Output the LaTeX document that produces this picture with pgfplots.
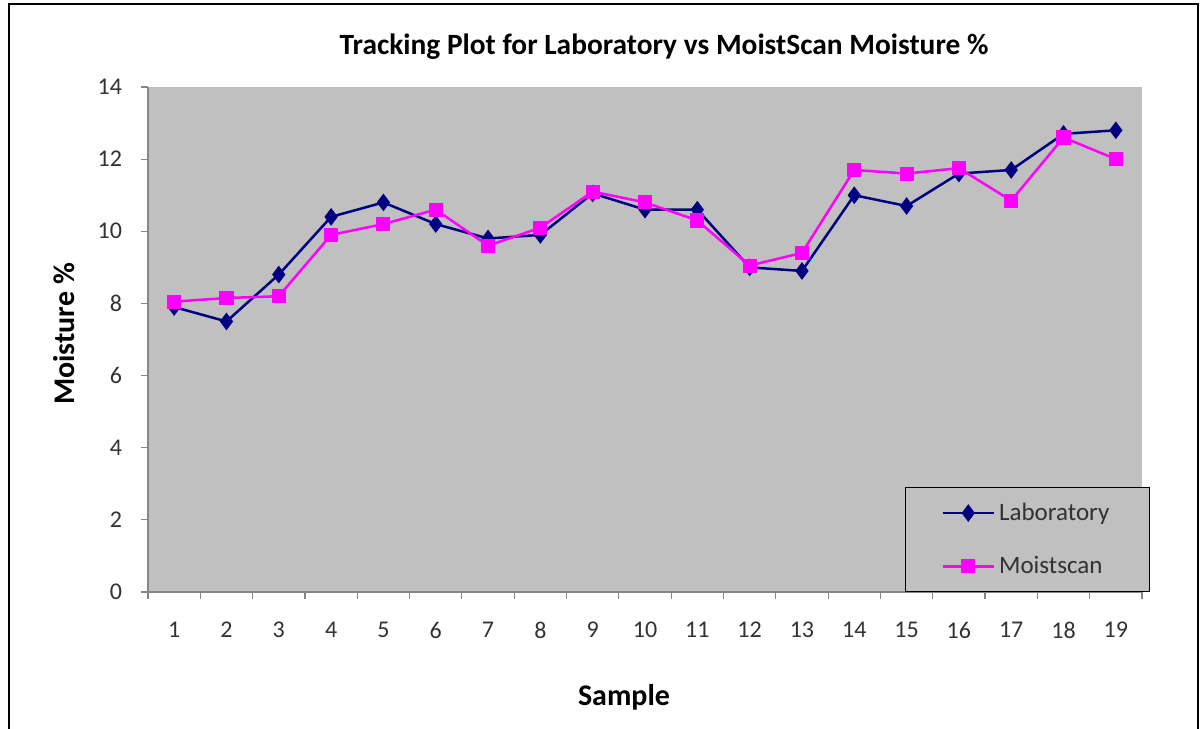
\documentclass[border=0pt]{standalone}
\usepackage{pgfplots}
\pgfplotsset{compat=1.18}
\usepackage{fontspec}
\setmainfont{Carlito}
\definecolor{bggray}{RGB}{192,192,192}
\definecolor{labblue}{RGB}{0,0,128}
\definecolor{moistpink}{RGB}{255,0,255}
\definecolor{axgray}{RGB}{134,134,134}
\definecolor{ticktext}{RGB}{50,50,50}
\begin{document}
\begin{tikzpicture}
\path[use as bounding box] (0,0) rectangle (600.5pt,364.5pt);
\draw[line width=1.3pt] (4.5pt,0pt) -- (4.5pt,362.5pt) -- (599pt,362.5pt) -- (599pt,0pt);
\begin{axis}[
  at={(74pt,68.5pt)}, anchor=south west,
  scale only axis, width=497pt, height=252.5pt,
  xmin=0.5, xmax=19.5, ymin=0, ymax=14,
  axis background/.style={fill=bggray},
  axis x line*=bottom, axis y line*=left,
  axis line style={axgray, line width=0.6pt},
  x axis line style={-}, y axis line style={-},
  xtick={0.5,1.5,...,19.5}, xticklabels={},
  extra x ticks={1,...,19}, extra x tick style={major tick length=0pt},
  extra x tick labels={1,2,3,4,5,6,7,8,9,10,11,12,13,14,15,16,17,18,19},
  ytick={0,2,...,14},
  tick style={axgray, line width=0.6pt},
  major tick length=3.5pt,
  tick align=outside,
  ticklabel style={font=\fontsize{12pt}{14pt}\selectfont, text=ticktext},
  xticklabel style={yshift=-11.5pt},
  yticklabel style={xshift=-6pt},
  /pgf/number format/assume math mode=true,
  legend style={at={(1.008,0)}, anchor=south east, fill=bggray, draw=black, line width=0.6pt,
    font=\fontsize{12.5pt}{14pt}\selectfont, text=ticktext, inner xsep=18pt, inner ysep=5.5pt, row sep=12.5pt,
    legend cell align=left},
  legend image code/.code={\draw[mark repeat=2,mark phase=2,line width=1.25pt] plot coordinates {(0cm,0cm) (0.45cm,0cm) (0.9cm,0cm)};},
]
\addplot[labblue, line width=1.25pt, mark=diamond*, mark size=3.4pt, mark options={fill=labblue}] coordinates {
(1,7.9) (2,7.5) (3,8.8) (4,10.4) (5,10.8) (6,10.2) (7,9.8) (8,9.9) (9,11.05) (10,10.6)
(11,10.6) (12,9.0) (13,8.9) (14,11.0) (15,10.7) (16,11.6) (17,11.7) (18,12.7) (19,12.8)};
\addlegendentry{Laboratory}
\addplot[moistpink, line width=1.25pt, mark=square*, mark size=2.9pt, mark options={fill=moistpink}] coordinates {
(1,8.05) (2,8.15) (3,8.2) (4,9.9) (5,10.2) (6,10.6) (7,9.6) (8,10.1) (9,11.1) (10,10.8)
(11,10.3) (12,9.05) (13,9.4) (14,11.7) (15,11.6) (16,11.75) (17,10.85) (18,12.6) (19,12.0)};
\addlegendentry{Moistscan}
\end{axis}
\node[font=\bfseries\fontsize{14.7pt}{17pt}\selectfont] at (332pt,341pt) {Tracking Plot for Laboratory vs MoistScan Moisture \%};
\node[font=\bfseries\fontsize{15pt}{17pt}\selectfont] at (312pt,16pt) {Sample};
\node[font=\bfseries\fontsize{15pt}{17pt}\selectfont, rotate=90] at (32pt,197.5pt) {Moisture \%};
\end{tikzpicture}
\end{document}
